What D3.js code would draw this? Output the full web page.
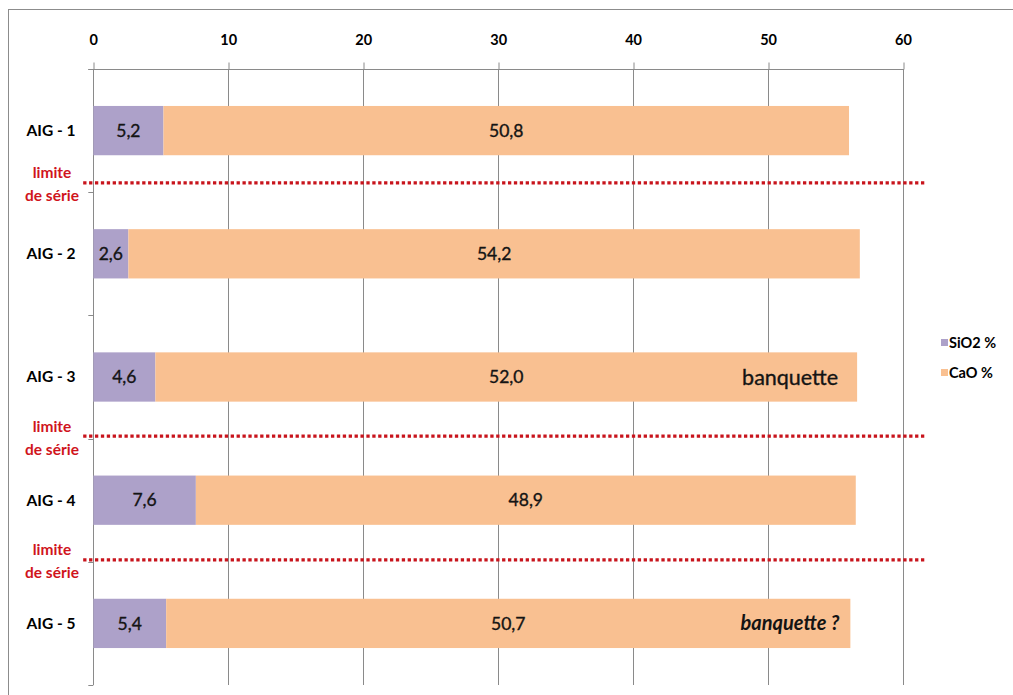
<!DOCTYPE html>
<html>
<head>
<meta charset="utf-8">
<script src="https://cdn.jsdelivr.net/npm/d3@7"></script>
<style>
  html, body { margin: 0; padding: 0; background: #fff; }
  svg { display: block; }
  text { font-family: Lato, "Open Sans", "DejaVu Sans", sans-serif; }
</style>
</head>
<body>
<svg id="chart" width="1013" height="695"></svg>
<script>
// Samples and their composition (%)
const categories = ["AIG - 1", "AIG - 2", "AIG - 3", "AIG - 4", "AIG - 5"];
const sio2 = [5.2, 2.6, 4.6, 7.6, 5.4];
const cao = [50.8, 54.2, 52.0, 48.9, 50.7];
const seriesNames = ["SiO2 %", "CaO %"];
const xTicks = [0, 10, 20, 30, 40, 50, 60];
// Series boundaries, in category units from the top of the plot
const limites = [0.925, 2.98, 3.985];
// Notes written inside some bars
const notes = [
  { cat: "AIG - 3", text: "banquette", italic: false },
  { cat: "AIG - 5", text: "banquette ?", italic: true }
];

const colors = ["#ADA1C9", "#F9C091"];
const fmt = v => v.toFixed(1).replace(".", ",");

const svg = d3.select("#chart");

// Frame
svg.append("rect")
  .attr("x", 8.5).attr("y", 9.5)
  .attr("width", 1020).attr("height", 700)
  .attr("fill", "none").attr("stroke", "#8c8c8c").attr("stroke-width", 1);

const plot = { left: 93.3, right: 903, top: 69, bottom: 685 };

const x = d3.scaleLinear().domain([0, 60]).range([plot.left, plot.right]);
const y = d3.scaleBand().domain(categories)
  .range([plot.top, plot.bottom]).paddingInner(0.6).paddingOuter(0.3);
const yUnits = d3.scaleLinear().domain([0, categories.length]).range([plot.top, plot.bottom]);

// Vertical gridlines
svg.append("g").selectAll("line")
  .data(xTicks.filter(d => d > 0))
  .join("line")
  .attr("x1", d => Math.round(x(d)) + 0.5).attr("x2", d => Math.round(x(d)) + 0.5)
  .attr("y1", plot.top).attr("y2", plot.bottom)
  .attr("stroke", "#8a8a8a").attr("stroke-width", 1);

// Top value axis
const xAxis = svg.append("g")
  .attr("transform", `translate(0,${plot.top + 0.5})`)
  .call(d3.axisTop(x).tickValues(xTicks).tickSize(7).tickPadding(18).tickFormat(d3.format("d")));
xAxis.select(".domain").remove();
xAxis.selectAll(".tick line").attr("stroke", "#8a8a8a")
  .attr("transform", d => `translate(${Math.round(x(d)) + 0.5 - x(d)},0)`);
xAxis.selectAll(".tick text")
  .attr("font-size", 14.5).attr("font-weight", "bold").attr("fill", "#000");
xAxis.append("line")
  .attr("x1", plot.left - 5).attr("x2", plot.right + 0.5)
  .attr("y1", 0).attr("y2", 0)
  .attr("stroke", "#8a8a8a");

// Left category axis line with boundary ticks
const yAxisG = svg.append("g");
yAxisG.append("line")
  .attr("x1", Math.round(plot.left) + 0.5).attr("x2", Math.round(plot.left) + 0.5)
  .attr("y1", plot.top).attr("y2", plot.bottom)
  .attr("stroke", "#8a8a8a");
yAxisG.selectAll("line.tk")
  .data(d3.range(categories.length + 1))
  .join("line").attr("class", "tk")
  .attr("x1", plot.left - 5).attr("x2", plot.left)
  .attr("y1", d => Math.round(yUnits(d)) + 0.5).attr("y2", d => Math.round(yUnits(d)) + 0.5)
  .attr("stroke", "#8a8a8a");

// Category labels
svg.append("g").selectAll("text")
  .data(categories)
  .join("text")
  .attr("x", 51).attr("y", d => y(d) + y.bandwidth() / 2)
  .attr("dy", "0.35em").attr("text-anchor", "middle")
  .attr("font-size", 15.5).attr("font-weight", "bold").attr("fill", "#000")
  .text(d => d);

// Stacked bars
const rows = categories.map((c, i) => ({ cat: c, vals: [sio2[i], cao[i]] }));
const stack = d3.stack().keys([0, 1]).value((d, k) => d.vals[k]);
const stacked = stack(rows);

const layers = svg.append("g").selectAll("g")
  .data(stacked)
  .join("g")
  .attr("fill", (d, i) => colors[i]);

layers.selectAll("rect")
  .data(d => d)
  .join("rect")
  .attr("x", d => x(d[0]))
  .attr("y", d => y(d.data.cat))
  .attr("width", d => x(d[1]) - x(d[0]))
  .attr("height", y.bandwidth());

// Value labels centred in each segment
layers.each(function(layer) {
  d3.select(this).selectAll("text")
    .data(layer)
    .join("text")
    .attr("x", d => (x(d[0]) + x(d[1])) / 2)
    .attr("y", d => y(d.data.cat) + y.bandwidth() / 2)
    .attr("dy", "0.35em").attr("text-anchor", "middle")
    .attr("font-size", 17.5).attr("fill", "#141414")
    .attr("stroke", "#141414").attr("stroke-width", 0.35)
    .text(d => fmt(d[1] - d[0]));
});

// Notes inside the bars, right-aligned
svg.append("g").selectAll("text")
  .data(notes)
  .join("text")
  .attr("x", d => {
    const i = categories.indexOf(d.cat);
    return x(sio2[i] + cao[i]) - (d.italic ? 11 : 19);
  })
  .attr("y", d => y(d.cat) + y.bandwidth() / 2)
  .attr("dy", "0.35em").attr("text-anchor", "end")
  .attr("font-size", d => d.italic ? 20 : 21.5)
  .attr("font-weight", d => d.italic ? "bold" : "normal")
  .attr("font-style", d => d.italic ? "italic" : "normal")
  .attr("fill", "#141414")
  .attr("stroke", d => d.italic ? "none" : "#141414").attr("stroke-width", 0.35)
  .text(d => d.text);

// Series limits: red dotted lines with labels
const lim = svg.append("g");
lim.selectAll("line")
  .data(limites)
  .join("line")
  .attr("x1", x(-0.75)).attr("x2", x(61.65))
  .attr("y1", d => yUnits(d)).attr("y2", d => yUnits(d))
  .attr("stroke", "#C8141C").attr("stroke-width", 3.2)
  .attr("stroke-dasharray", "3.3 2.6");
lim.selectAll("text.l1")
  .data(limites)
  .join("text").attr("class", "l1")
  .attr("x", 52).attr("y", d => yUnits(d) - 10)
  .attr("dy", "0.35em").attr("text-anchor", "middle")
  .attr("font-size", 15.5).attr("font-weight", "bold").attr("fill", "#D0141C")
  .text("limite");
lim.selectAll("text.l2")
  .data(limites)
  .join("text").attr("class", "l2")
  .attr("x", 52).attr("y", d => yUnits(d) + 13)
  .attr("dy", "0.35em").attr("text-anchor", "middle")
  .attr("font-size", 15.5).attr("font-weight", "bold").attr("fill", "#D0141C")
  .text("de série");

// Legend
const legend = svg.append("g").attr("transform", "translate(941,339)");
const li = legend.selectAll("g")
  .data(seriesNames)
  .join("g")
  .attr("transform", (d, i) => `translate(0,${i * 30})`);
li.append("rect")
  .attr("width", 7).attr("height", 7)
  .attr("fill", (d, i) => colors[i]);
li.append("text")
  .attr("x", 8).attr("y", 3.5).attr("dy", "0.35em")
  .attr("font-size", 14.5).attr("font-weight", "bold").attr("fill", "#000")
  .text(d => d);
</script>
</body>
</html>
